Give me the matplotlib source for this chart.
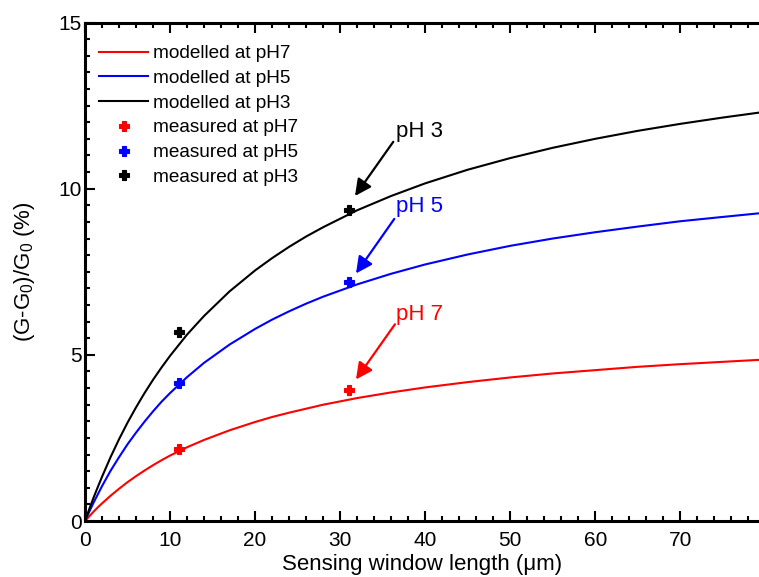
import matplotlib
matplotlib.use("Agg")
import matplotlib.pyplot as plt
from matplotlib.ticker import MultipleLocator

plt.rcParams['font.family'] = ['Liberation Sans', 'DejaVu Sans']
plt.rcParams['mathtext.default'] = 'regular'

# Modelled curves
x_model = [0, 0.5, 1, 1.5, 2, 3, 4, 5, 6, 7, 8, 9, 10, 12, 14, 17, 20, 22,
           24, 26, 28, 32, 36, 40, 45, 50, 55, 60, 65, 70, 75, 79.3]
model_ph7 = [0, 0.14, 0.28, 0.41, 0.53, 0.76, 0.97, 1.17, 1.35, 1.52, 1.68,
             1.83, 1.97, 2.22, 2.44, 2.73, 2.98, 3.13, 3.26, 3.38, 3.50, 3.70,
             3.87, 4.02, 4.18, 4.32, 4.44, 4.54, 4.64, 4.72, 4.79, 4.85]
model_ph5 = [0, 0.28, 0.55, 0.80, 1.05, 1.51, 1.92, 2.31, 2.66, 2.99, 3.30,
             3.59, 3.85, 4.33, 4.76, 5.31, 5.78, 6.06, 6.31, 6.54, 6.75, 7.12,
             7.44, 7.72, 8.02, 8.28, 8.50, 8.69, 8.86, 9.02, 9.15, 9.26]
model_ph3 = [0, 0.36, 0.70, 1.02, 1.33, 1.92, 2.46, 2.96, 3.42, 3.85, 4.25,
             4.62, 4.97, 5.61, 6.17, 6.91, 7.54, 7.91, 8.25, 8.56, 8.84, 9.35,
             9.78, 10.16, 10.57, 10.92, 11.23, 11.50, 11.74, 11.95, 12.14,
             12.29]

# Measured points
x_meas = [11, 31]
meas_ph7 = [2.17, 3.94]
meas_ph5 = [4.14, 7.20]
meas_ph3 = [5.68, 9.36]

labels_model = ['modelled at pH7', 'modelled at pH5', 'modelled at pH3']
labels_meas = ['measured at pH7', 'measured at pH5', 'measured at pH3']
colors = ['#ff0000', '#0000ff', '#000000']

fig = plt.figure(figsize=(7.59, 5.77), dpi=100)
ax = fig.add_axes([0.112, 0.097, 0.888, 0.864])

for y, c, lab in zip([model_ph7, model_ph5, model_ph3], colors, labels_model):
    ax.plot(x_model, y, color=c, lw=1.5, label=lab)
for y, c, lab in zip([meas_ph7, meas_ph5, meas_ph3], colors, labels_meas):
    ax.plot(x_meas, y, linestyle='none', marker='P', markersize=7.5,
            color=c, markeredgewidth=0.8, label=lab)

# Annotations
ann = [('pH 3', (36.57, 11.56), (36.25, 11.41), (31.75, 9.78), colors[2]),
       ('pH 5', (36.57, 9.31), (36.37, 9.09), (31.87, 7.45), colors[1]),
       ('pH 7', (36.57, 6.05), (36.45, 5.92), (31.87, 4.26), colors[0])]
for txt, tpos, tail, head, c in ann:
    ax.text(tpos[0], tpos[1], txt, color=c, fontsize=16, ha='left',
            va='baseline')
    ax.annotate('', xy=head, xytext=tail,
                arrowprops=dict(arrowstyle='-|>', color=c, lw=1.6,
                                mutation_scale=25, shrinkA=0, shrinkB=0))

ax.set_xlim(0, 79.26)
ax.set_ylim(0, 15)
ax.xaxis.set_major_locator(MultipleLocator(10))
ax.xaxis.set_minor_locator(MultipleLocator(2))
ax.yaxis.set_major_locator(MultipleLocator(5))
ax.yaxis.set_minor_locator(MultipleLocator(0.5))
ax.tick_params(which='both', direction='in', top=True, right=False,
               labelsize=15, width=1.5)
ax.tick_params(which='major', length=7)
ax.tick_params(which='minor', length=3.5)
ax.tick_params(axis='x', which='major', pad=7)
ax.tick_params(axis='y', which='major', pad=2.5)
for s in ['left', 'bottom', 'top']:
    ax.spines[s].set_linewidth(2.2)
ax.spines['right'].set_visible(False)

ax.set_xlabel('Sensing window length (μm)', fontsize=16, labelpad=3)
ax.set_ylabel('(G-G$_0$)/G$_0$ (%)', fontsize=16, labelpad=15)

leg = ax.legend(loc='upper left', bbox_to_anchor=(0.0208, 0.955),
                frameon=False, fontsize=13.7, handlelength=2.58,
                handletextpad=0.26, labelspacing=0.39, borderaxespad=0,
                borderpad=0)

fig.savefig('out.png', dpi=100)
